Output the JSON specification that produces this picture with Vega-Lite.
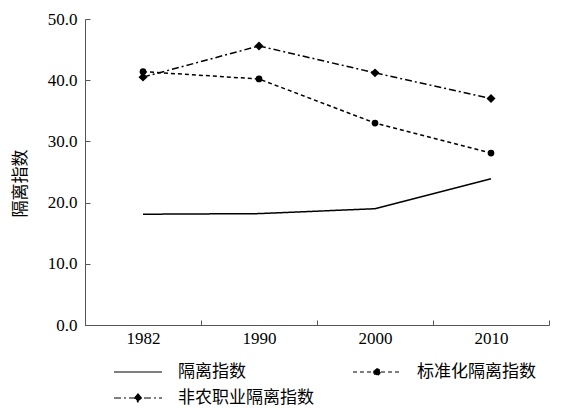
{
  "$schema": "https://vega.github.io/schema/vega-lite/v6.json",
  "width": 464,
  "height": 306,
  "autosize": "none",
  "padding": {"left": 85, "top": 19, "right": 14, "bottom": 83},
  "background": "white",
  "config": {
    "view": {"stroke": null},
    "font": "'Liberation Serif', 'Noto Sans CJK SC'",
    "axis": {
      "labelFont": "'Liberation Serif', 'Noto Sans CJK SC'",
      "titleFont": "'Liberation Serif', 'Noto Sans CJK SC'",
      "labelFontSize": 17,
      "titleFontSize": 17,
      "titleFontWeight": "normal",
      "labelColor": "black",
      "titleColor": "black",
      "domainColor": "#555",
      "tickColor": "#555",
      "grid": false
    }
  },
  "data": {
    "values": [
      {"year": "1982", "series": "隔离指数", "value": 18.1},
      {"year": "1990", "series": "隔离指数", "value": 18.2},
      {"year": "2000", "series": "隔离指数", "value": 19.0},
      {"year": "2010", "series": "隔离指数", "value": 23.9},
      {"year": "1982", "series": "标准化隔离指数", "value": 41.4},
      {"year": "1990", "series": "标准化隔离指数", "value": 40.2},
      {"year": "2000", "series": "标准化隔离指数", "value": 33.0},
      {"year": "2010", "series": "标准化隔离指数", "value": 28.1},
      {"year": "1982", "series": "非农职业隔离指数", "value": 40.5},
      {"year": "1990", "series": "非农职业隔离指数", "value": 45.6},
      {"year": "2000", "series": "非农职业隔离指数", "value": 41.2},
      {"year": "2010", "series": "非农职业隔离指数", "value": 37.0}
    ]
  },
  "encoding": {
    "x": {
      "field": "year",
      "type": "ordinal",
      "scale": {"type": "band", "paddingInner": 0, "paddingOuter": 0},
      "axis": {
        "title": null,
        "labelAngle": 0,
        "tickBand": "extent",
        "tickSize": -5,
        "labelPadding": 10
      }
    },
    "y": {
      "field": "value",
      "type": "quantitative",
      "scale": {"domain": [0, 50], "nice": false, "zero": true},
      "axis": {
        "title": "隔离指数",
        "values": [0, 10, 20, 30, 40, 50],
        "format": ".1f",
        "tickSize": -5,
        "labelPadding": 13,
        "titlePadding": 18,
        "titleY": 164
      }
    }
  },
  "layer": [
    {
      "mark": {"type": "line", "color": "black", "strokeWidth": 1.5},
      "encoding": {
        "strokeDash": {
          "field": "series",
          "type": "nominal",
          "scale": {
            "domain": ["隔离指数", "标准化隔离指数", "非农职业隔离指数"],
            "range": [[1, 0], [4, 3], [7, 3, 2, 3]]
          }
        }
      }
    },
    {
      "transform": [{"filter": "datum.series == '标准化隔离指数'"}],
      "mark": {"type": "point", "shape": "circle", "filled": true, "color": "black", "size": 45, "opacity": 1}
    },
    {
      "transform": [{"filter": "datum.series == '非农职业隔离指数'"}],
      "mark": {"type": "point", "shape": "diamond", "filled": true, "color": "black", "size": 80, "opacity": 1}
    },
    {
      "mark": {"type": "point", "filled": true, "color": "black", "opacity": 0},
      "encoding": {
        "shape": {
          "field": "series",
          "type": "nominal",
          "scale": {
            "domain": ["隔离指数", "标准化隔离指数", "非农职业隔离指数"],
            "range": [
              "M-3,0H3",
              "M-3,0H3M0.4,0A0.4,0.4 0 1,1 -0.4,0A0.4,0.4 0 1,1 0.4,0Z",
              "M-3,0H3M0,-0.5L0.42,0L0,0.5L-0.42,0Z"
            ]
          },
          "legend": {
            "title": null,
            "orient": "none",
            "direction": "horizontal",
            "legendX": 44,
            "legendY": 344,
            "columns": 2,
            "columnPadding": 36,
            "rowPadding": 9,
            "symbolSize": 256,
            "symbolStrokeWidth": 1.2,
            "symbolStrokeColor": "black",
            "symbolFillColor": "black",
            "symbolOpacity": 1,
            "labelFont": "'Liberation Serif', 'Noto Sans CJK SC'",
            "labelFontSize": 17,
            "labelColor": "black",
            "labelOffset": 31,
            "labelLimit": 300,
            "encode": {"symbols": {"update": {"opacity": {"value": 1}}}}
          }
        },
        "strokeDash": {
          "field": "series",
          "type": "nominal",
          "scale": {
            "domain": ["隔离指数", "标准化隔离指数", "非农职业隔离指数"],
            "range": [[1, 0], [4, 3], [7, 3, 2, 3]]
          }
        }
      }
    }
  ]
}
